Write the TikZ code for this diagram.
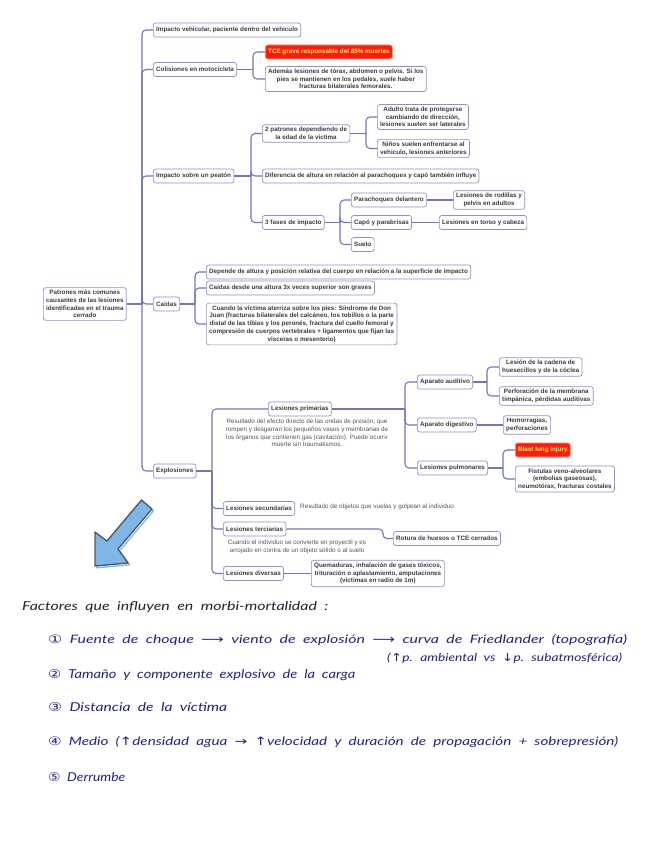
\documentclass[tikz,border=0pt]{standalone}
\usepackage{fontspec}
\usepackage{graphicx}
\setmainfont{Liberation Sans}
\newfontfamily\hand{Lato}[WordSpace=2]
\newfontfamily\sym{DejaVu Sans}
\definecolor{boxc}{HTML}{8C90C8}
\definecolor{linec}{HTML}{7276B8}
\definecolor{txt}{HTML}{3C3C3C}
\definecolor{notec}{HTML}{555555}
\definecolor{red1}{HTML}{FF1A1A}
\definecolor{orange1}{HTML}{FF9A3C}
\definecolor{yellow1}{HTML}{FFFF33}
\definecolor{arrowblue}{HTML}{7FB6E8}
\definecolor{arrowgrey}{HTML}{505458}
\definecolor{handc}{HTML}{232380}
\definecolor{handa}{HTML}{222233}
\tikzset{
  box/.style={draw=boxc, line width=0.7pt, rounded corners=2.5pt, fill=white,
    font=\bfseries\fontsize{6.3}{7.7}\selectfont, text=txt, inner xsep=2.8pt,
    inner ysep=2.5pt, minimum height=14pt, align=center, anchor=west},
  redbox/.style={box, fill=red1, draw=orange1, text=yellow1},
  conn/.style={draw=linec, line width=1.1pt, rounded corners=4pt},
  note/.style={font=\fontsize{6.3}{7.6}\selectfont, text=notec, align=center, inner sep=0pt},
  hw/.style={anchor=base west, inner sep=0pt, text=handc, font=\hand\itshape\fontsize{10}{12}\selectfont},
}
\newcommand\kid[3]{\draw[conn] (#1.east) -- (#2 |- #1.east); \draw[conn] (#2 |- #1.east) |- (#3.west);}
\begin{document}
\begin{tikzpicture}[x=1pt,y=-1pt]
\fill[white] (0,0) rectangle (646,848);
\useasboundingbox (0,0) rectangle (646,848);
% branch coordinates
\coordinate (b0) at (142,0);
\coordinate (bMoto) at (253,0);
\coordinate (bPeat) at (251,0);
\coordinate (bPatr) at (366,0);
\coordinate (bFases) at (340,0);
\coordinate (bCaid) at (195,0);
\coordinate (bExpl) at (212,0);
\coordinate (bPrim) at (405,0);
\coordinate (bAud) at (487,0);
\coordinate (bPul) at (503,0);
\coordinate (bTer) at (383,0);
% nodes
\node[box] (root) at (43,304) {Patrones más comunes\\causantes de las lesiones\\identificadas en el trauma\\cerrado};
\node[box] (veh) at (153,30) {Impacto vehicular, paciente dentro del vehiculo};
\node[box] (moto) at (153,69.5) {Colisiones en motocicleta};
\node[redbox] (tce) at (265,52) {TCE grave responsable del 85\% muertes};
\node[box] (ademas) at (265,79) {Además lesiones de tórax, abdomen o pelvis. Si los\\pies se mantienen en los pedales, suele haber\\fracturas bilaterales femorales.};
\node[box] (peat) at (153,176) {Impacto sobre un peatón};
\node[box] (patr) at (262,133.5) {2 patrones dependiendo de\\la edad de la victima};
\node[box] (adul) at (377,117) {Adulto trata de protegerse\\cambiando de dirección,\\lesiones suelen ser laterales};
\node[box] (nino) at (377,148.5) {Niños suelen enfrentarse al\\vehiculo, lesiones anteriores};
\node[box] (dif) at (262,176) {Diferencia de altura en relación al parachoques y capó también influye};
\node[box] (fases) at (262,222.5) {3 fases de impacto};
\node[box] (parach) at (351,200) {Parachoques delantero};
\node[box] (rodil) at (453,200) {Lesiones de rodillas y\\pelvis en adultos};
\node[box] (capo) at (351,222.5) {Capó y parabrisas};
\node[box] (torso) at (439,222.5) {Lesiones en torso y cabeza};
\node[box] (suelo) at (351,244.5) {Suelo};
\node[box] (caid) at (153,304) {Caidas};
\node[box] (dep) at (206,272) {Depende de altura y posición relativa del cuerpo en relación a la superficie de impacto};
\node[box] (alt) at (206,288) {Caidas desde una altura 3x veces superior son graves};
\node[box] (cuan) at (206,324) {Cuando la victima aterriza sobre los pies: Síndrome de Don\\Juan (fracturas bilaterales del calcáneo, los tobillos o la parte\\distal de las tibias y los peronés, fractura del cuello femoral y\\compresión de cuerpos vertebrales + ligamentos que fijan las\\visceras o mesenterio)};
\node[box] (expl) at (153,471) {Explosiones};
\node[box] (prim) at (268,409) {Lesiones primarias};
\node[note] (primn) at (307,433) {Resultado del efecto directo de las ondas de presión, que\\rompen y desgarran los pequeños vasos y membranas de\\los órganos que contienen gas (cavitación). Puede ocurrir\\muerte sin traumatismos.};
\node[box] (aud) at (417,382) {Aparato auditivo};
\node[box] (hues) at (499,367) {Lesión de la cadena de\\huesecillos y de la cóclea};
\node[box] (perf) at (499,396) {Perforación de la membrana\\timpánica, pérdidas auditivas};
\node[box] (dig) at (417,425) {Aparato digestivo};
\node[box] (hem) at (503,425) {Hemorragias,\\perforaciones};
\node[box] (pul) at (417,468) {Lesiones pulmonares};
\node[redbox] (blast) at (515,450) {Blast lung injury};
\node[box] (fist) at (515,479) {Fistulas veno-alveolares\\(embolias gaseosas),\\neumotórax, fracturas costales};
\node[box] (sec) at (223,508.5) {Lesiones secundarias};
\node[note, anchor=west] (secn) at (300,506.5) {Resultado de objetos que vuelas y golpean al individuo};
\node[box] (ter) at (223,529) {Lesiones terciarias};
\node[box] (rot) at (393,538.5) {Rotura de huesos o TCE cerrados};
\node[note] (tern) at (297,547) {Cuando el individuo se convierte en proyectil y es\\arrojado en contra de un objeto sólido o al suelo};
\node[box] (div) at (223,573.5) {Lesiones diversas};
\node[box] (quem) at (311,573.5) {Quemaduras, inhalación de gases tóxicos,\\trituración o aplastamiento, amputaciones\\(victimas en radio de 1m)};
% connectors
\kid{root}{b0}{veh}
\kid{root}{b0}{moto}
\kid{root}{b0}{peat}
\kid{root}{b0}{caid}
\kid{root}{b0}{expl}
\kid{moto}{bMoto}{tce}
\kid{moto}{bMoto}{ademas}
\kid{peat}{bPeat}{patr}
\kid{peat}{bPeat}{dif}
\kid{peat}{bPeat}{fases}
\kid{patr}{bPatr}{adul}
\kid{patr}{bPatr}{nino}
\kid{fases}{bFases}{parach}
\kid{fases}{bFases}{capo}
\kid{fases}{bFases}{suelo}
\draw[conn] (parach.east) -- (rodil.west);
\draw[conn] (capo.east) -- (torso.west);
\kid{caid}{bCaid}{dep}
\kid{caid}{bCaid}{alt}
\kid{caid}{bCaid}{cuan}
\kid{expl}{bExpl}{prim}
\kid{expl}{bExpl}{sec}
\kid{expl}{bExpl}{ter}
\kid{expl}{bExpl}{div}
\kid{prim}{bPrim}{aud}
\kid{prim}{bPrim}{dig}
\kid{prim}{bPrim}{pul}
\kid{aud}{bAud}{hues}
\kid{aud}{bAud}{perf}
\draw[conn] (dig.east) -- (hem.west);
\kid{pul}{bPul}{blast}
\kid{pul}{bPul}{fist}
\draw[conn] (ter.east) -| (bTer |- rot.west) -- (rot.west);
\draw[conn] (div.east) -- (quem.west);
% blue arrow
\begin{scope}[shift={(1.5,1.8)}]
\draw[arrowblue, line width=1.3pt, line join=round] (141.5,500) -- (152,509) -- (118,549) -- (128,563) -- (95,566) -- (95,532) -- (107,541) -- cycle;
\end{scope}
\draw[fill=arrowblue, draw=arrowgrey, line width=1.3pt, line join=round] (141.5,500) -- (152,509) -- (118,549) -- (128,563) -- (95,566) -- (95,532) -- (107,541) -- cycle;
% handwritten notes
\node[hw, text=handa] (h1) at (22,610) {\resizebox{306pt}{9pt}{Factores que influyen en morbi-mortalidad :}};
\node[hw] (h2) at (48,643) {\resizebox{579pt}{9pt}{{\sym ①} Fuente de choque {\sym ⟶} viento de explosión {\sym ⟶} curva de Friedlander (topografía)}};
\node[hw] (h3) at (387,661) {\resizebox{235pt}{8.5pt}{({\sym ↑}p. ambiental vs {\sym ↓}p. subatmosférica)}};
\node[hw] (h4) at (48,678) {\resizebox{307pt}{9pt}{{\sym ②} Tamaño y componente explosivo de la carga}};
\node[hw] (h5) at (48,711) {\resizebox{179pt}{9pt}{{\sym ③} Distancia de la víctima}};
\node[hw] (h6) at (48,745) {\resizebox{570pt}{9pt}{{\sym ④} Medio ({\sym ↑}densidad agua {\sym →} {\sym ↑}velocidad y duración de propagación + sobrepresión)}};
\node[hw] (h7) at (48,781) {\resizebox{77pt}{9pt}{{\sym ⑤} Derrumbe}};
\end{tikzpicture}
\end{document}
